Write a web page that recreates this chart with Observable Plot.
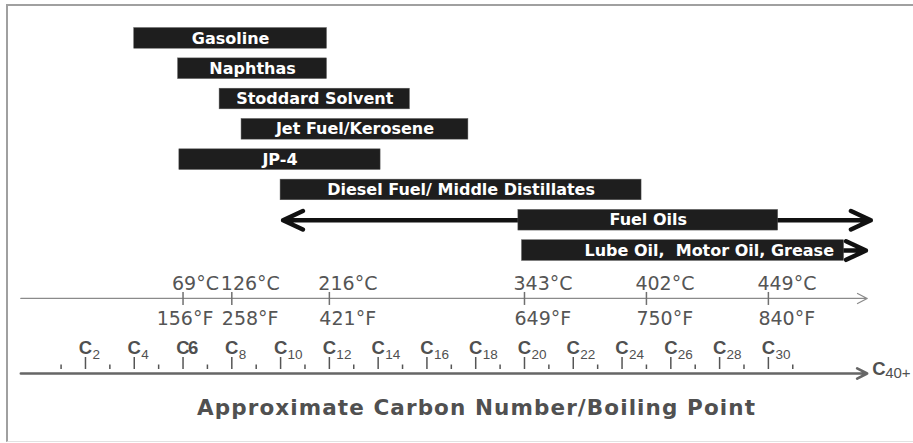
<!DOCTYPE html>
<html>
<head>
<meta charset="utf-8">
<script src="https://cdn.jsdelivr.net/npm/d3@7"></script>
<script src="https://cdn.jsdelivr.net/npm/@observablehq/plot@0.6"></script>
<style>
  html, body { margin: 0; padding: 0; background: #fff; }
  #wrap { position: relative; width: 913px; height: 443px; overflow: hidden; background: #fff; }
  #chart { position: absolute; left: 0; top: 0; }
  #frame { position: absolute; left: 6px; top: 4px; width: 1000px; height: 435px;
           border-top: 2px solid #a0a0a0; border-left: 2px solid #a0a0a0; border-bottom: 1px solid #e2e2e2; pointer-events: none; }
  #title { position: absolute; left: 40px; width: 873px; top: 396px; line-height: 24px; text-align: center;
           font-family: "DejaVu Sans", sans-serif; font-weight: bold; font-size: 21.5px; letter-spacing: 1.1px; color: #505050; }
</style>
</head>
<body>
<div id="wrap">
  <div id="chart"></div>
  <div id="frame"></div>
  <div id="title">Approximate Carbon Number/Boiling Point</div>
</div>
<script>
// ---- data (carbon-number ranges) ----
const fuels = ["Gasoline", "Naphthas", "Stoddard Solvent", "Jet Fuel/Kerosene", "JP-4",
               "Diesel Fuel/ Middle Distillates", "Fuel Oils", "Lube Oil,  Motor Oil, Grease"];
const carbonLow  = [4.0, 5.8, 7.5, 8.4, 5.85, 10.0, 19.75, 19.9];
const carbonHigh = [11.9, 11.9, 15.3, 17.7, 14.1, 24.8, 30.4, 33.1];
const arrowLow   = [null, null, null, null, null, null, 10.1, null];
const arrowHigh  = [null, null, null, null, null, null, 34.2, 34.0];

const tempC      = ["69°C", "126°C", "216°C", "343°C", "402°C", "449°C"];
const tempF      = ["156°F", "258°F", "421°F", "649°F", "750°F", "840°F"];
const tempCarbon = [6, 8, 12, 20, 25, 30];

const carbonMajor  = [2, 4, 6, 8, 10, 12, 14, 16, 18, 20, 22, 24, 26, 28, 30];
const carbonMinor  = [1, 3, 5, 7, 9, 11, 13, 15, 17, 19, 21, 23, 25, 27, 29, 31];
const carbonInline = [6];          // label written as "C6" (not subscripted)
const carbonEnd    = ["40+"];

// ---- layout ----
const W = 913, H = 390;
const ROW_PX = 30.31, ROW0_PX = 37.9;       // pixels per row, first row offset
const px = (p) => p / ROW_PX;               // pixel offset -> row units
const TEMP_ROW = 8.58, CARBON_ROW = 11.056;
const AX0 = -0.65, AX1 = 34.05;             // axis line extent (carbon units)
const BAR_HALF = 0.34;

const bars = fuels.map((name, i) => ({
  name, row: i, lo: carbonLow[i], hi: carbonHigh[i], alo: arrowLow[i], ahi: arrowHigh[i]
}));
const mid = (d) => (d.lo + d.hi) / 2;
const tIdx = tempCarbon.map((_, i) => i);
// a °F label is "crowded" when the next tick is too close: it is centred instead of left-set
const crowded = (i) => i < tempCarbon.length - 1 && tempCarbon[i + 1] - tempCarbon[i] < 2.5;

const barFont = {fontFamily: "DejaVu Sans", fontWeight: "bold", fontSize: 16, fill: "#ffffff"};
const tempFont = {fontFamily: "DejaVu Sans", fontSize: 19, fill: "#555555"};
const cFont = {fontFamily: "Liberation Sans", fontWeight: "bold", fontSize: 18.5, fill: "#505050"};
const subFont = {fontFamily: "Liberation Sans", fontSize: 13.5, fill: "#505050", textAnchor: "start"};

const chart = Plot.plot({
  width: W, height: H,
  marginTop: 0, marginRight: 0, marginBottom: 0, marginLeft: 0,
  style: {background: "transparent", overflow: "visible"},
  x: {domain: [-1.484, 35.95], axis: null},
  y: {domain: [-ROW0_PX / ROW_PX, (H - ROW0_PX) / ROW_PX], range: [0, H], axis: null},
  marks: [
    // temperature axis
    Plot.arrow([{}], {x1: AX0, x2: AX1, y1: TEMP_ROW, y2: TEMP_ROW,
      stroke: "#8a8a8a", strokeWidth: 1.3, headLength: 12.5, headAngle: 55}),
    Plot.ruleX(tIdx, {x: (i) => tempCarbon[i], y1: TEMP_ROW - px(6), y2: TEMP_ROW + px(7),
      stroke: "#707070", strokeWidth: 1.5}),
    Plot.text(tIdx, {x: (i) => tempCarbon[i], y: TEMP_ROW, text: (i) => tempC[i], dy: -15,
      textAnchor: "start", dx: -11, ...tempFont}),
    Plot.text(tIdx.filter((i) => !crowded(i)), {x: (i) => tempCarbon[i], y: TEMP_ROW, text: (i) => tempF[i], dy: 20,
      textAnchor: "start", dx: -10, ...tempFont}),
    Plot.text(tIdx.filter(crowded), {x: (i) => tempCarbon[i], y: TEMP_ROW, text: (i) => tempF[i], dy: 20,
      textAnchor: "middle", dx: 2, ...tempFont}),

    // carbon axis
    Plot.arrow([{}], {x1: AX0, x2: AX1, y1: CARBON_ROW, y2: CARBON_ROW,
      stroke: "#666666", strokeWidth: 2.6, headLength: 6.5, headAngle: 55}),
    Plot.ruleX(carbonMajor, {x: (d) => d, y1: CARBON_ROW - px(16), y2: CARBON_ROW - px(4),
      stroke: "#555555", strokeWidth: 1.5}),
    Plot.ruleX(carbonMinor, {x: (d) => d, y1: CARBON_ROW - px(8.5), y2: CARBON_ROW - px(4),
      stroke: "#555555", strokeWidth: 1.5}),
    Plot.text(carbonMajor, {x: (d) => d, y: CARBON_ROW, text: () => "C", dy: -25,
      dx: 0, ...cFont}),
    Plot.text(carbonMajor.filter((d) => !carbonInline.includes(d)), {x: (d) => d, y: CARBON_ROW,
      text: (d) => String(d), dx: 7, dy: -19, ...subFont}),
    Plot.text(carbonInline, {x: (d) => d, y: CARBON_ROW, text: (d) => String(d),
      dx: 5, dy: -25, textAnchor: "start", ...cFont}),
    Plot.text(carbonEnd, {x: AX1, y: CARBON_ROW, text: () => "C", dx: 5, dy: -4.5,
      textAnchor: "start", ...cFont}),
    Plot.text(carbonEnd, {x: AX1, y: CARBON_ROW, text: (d) => d, dx: 18, dy: 0,
      ...subFont, fontSize: 15}),

    // fuel-oil / lube arrows (under the bars)
    Plot.arrow(bars.filter((d) => d.alo != null), {x1: mid, x2: "alo", y1: "row", y2: "row",
      stroke: "#111111", strokeWidth: 4.5, headLength: 7.3, headAngle: 50}),
    Plot.arrow(bars.filter((d) => d.ahi != null), {x1: mid, x2: "ahi", y1: "row", y2: "row",
      stroke: "#111111", strokeWidth: 4.5, headLength: 7.3, headAngle: 50}),

    // bars
    Plot.rect(bars, {x1: "lo", x2: "hi", y1: (d) => d.row - BAR_HALF, y2: (d) => d.row + BAR_HALF,
      fill: "#1e1e1e", stroke: "#555", strokeWidth: 0.5}),
    Plot.text(bars.slice(0, -1), {x: mid, y: "row", text: "name", ...barFont}),
    Plot.text(bars.slice(-1), {x: "hi", y: "row", text: "name", textAnchor: "end", dx: -10, ...barFont})
  ]
});
document.getElementById("chart").appendChild(chart);
</script>
</body>
</html>
